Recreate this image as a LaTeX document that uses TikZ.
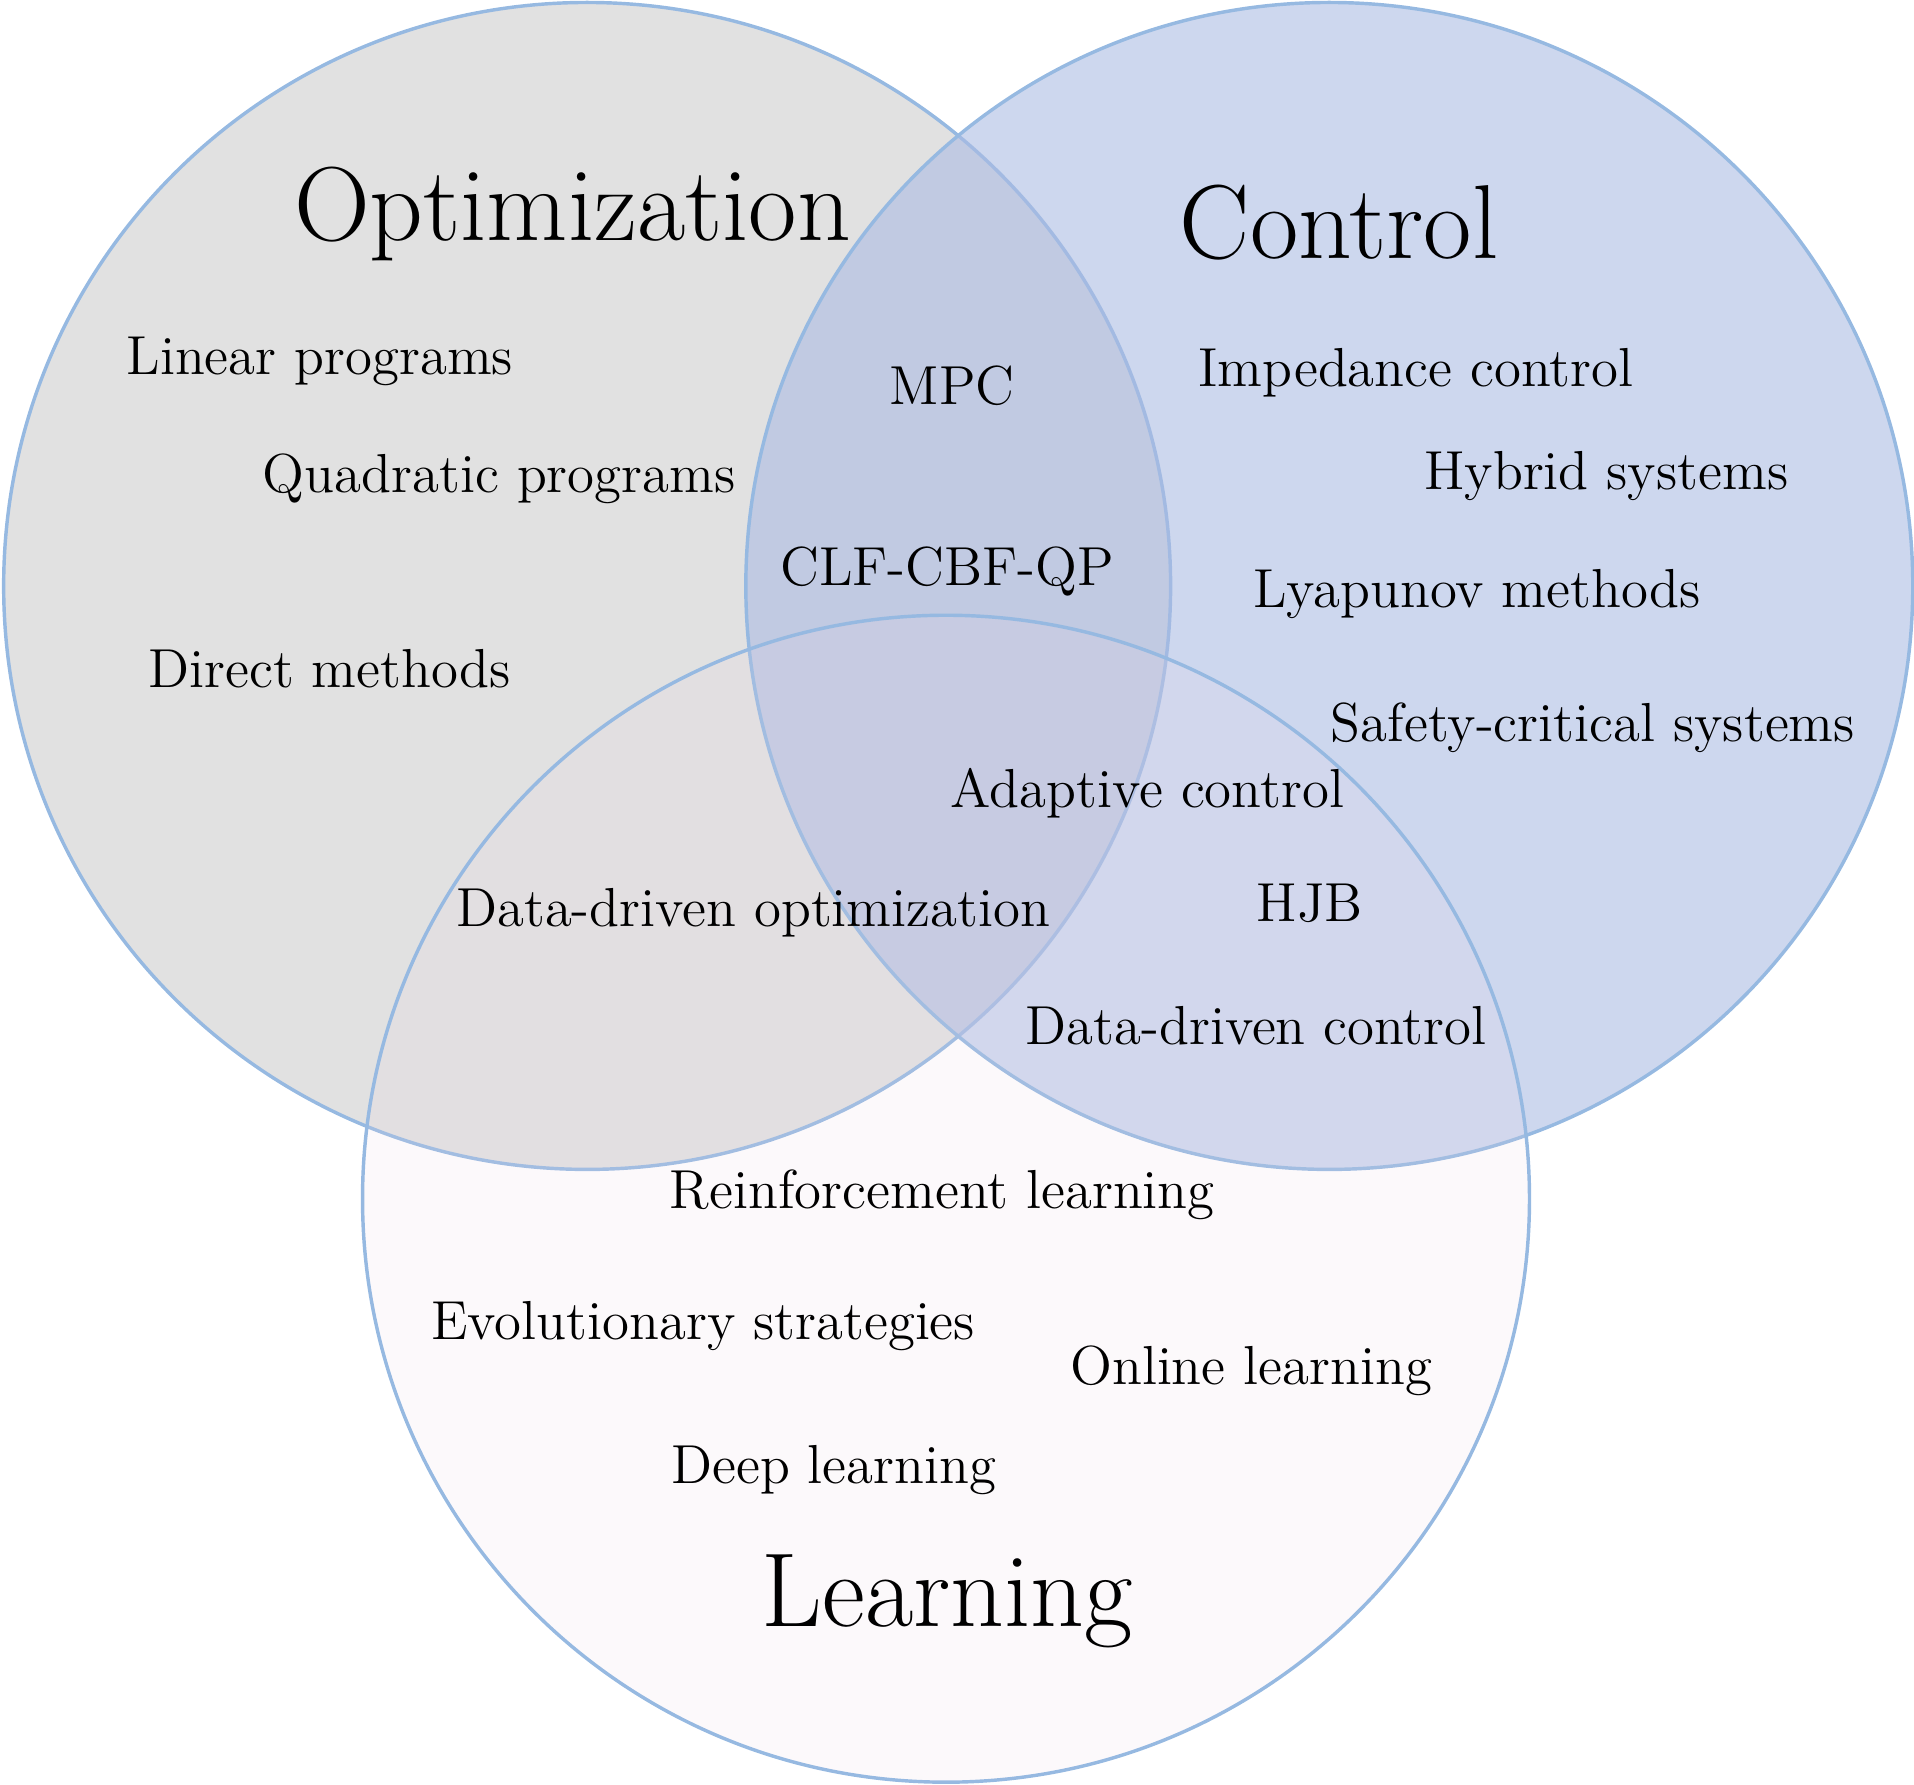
\documentclass[tikz,border=0pt]{standalone}
\begin{document}
\begin{tikzpicture}[x=0.01cm,y=-0.01cm,
  circ/.style={draw={rgb,255:red,150;green,185;blue,225},line width=0.8pt},
  item/.style={font=\fontsize{12.8}{15}\selectfont},
  title/.style={font=\fontsize{24.5}{28}\selectfont}]
\definecolor{optc}{RGB}{225,225,225}
\definecolor{ctlc}{RGB}{172,188,227}
\definecolor{lrnc}{RGB}{235,215,228}
\useasboundingbox (0,0) rectangle (1568,1462);
\path[circ,fill=optc] (481,480) circle (478);
\path[circ,fill=ctlc,fill opacity=0.6] (1089,480) circle (478);
\path[circ,fill=lrnc,fill opacity=0.15] (775,982) circle (478);
\node[title] (opt) at (469,175) {Optimization};
\node[title] (ctl) at (1097,182) {Control};
\node[title] (lrn) at (776,1312) {Learning};
\node[item] (a1) at (262,296) {Linear programs};
\node[item] (a2) at (409,392) {Quadratic programs};
\node[item] (a3) at (270,548) {Direct methods};
\node[item] (a4) at (780,316) {MPC};
\node[item] (a5) at (776,468) {CLF-CBF-QP};
\node[item] (a6) at (1160,305) {Impedance control};
\node[item] (a7) at (1316,390) {Hybrid systems};
\node[item] (a8) at (1210,487) {Lyapunov methods};
\node[item] (a9) at (1305,596) {Safety-critical systems};
\node[item] (a10) at (940,650) {Adaptive control};
\node[item] (a11) at (617,748) {Data-driven optimization};
\node[item] (a12) at (1073,740) {HJB};
\node[item] (a13) at (1029,840) {Data-driven control};
\node[item] (a14) at (772,979) {Reinforcement learning};
\node[item] (a15) at (576,1086) {Evolutionary strategies};
\node[item] (a16) at (1025,1123) {Online learning};
\node[item] (a17) at (683,1204) {Deep learning};
\end{tikzpicture}
\end{document}
